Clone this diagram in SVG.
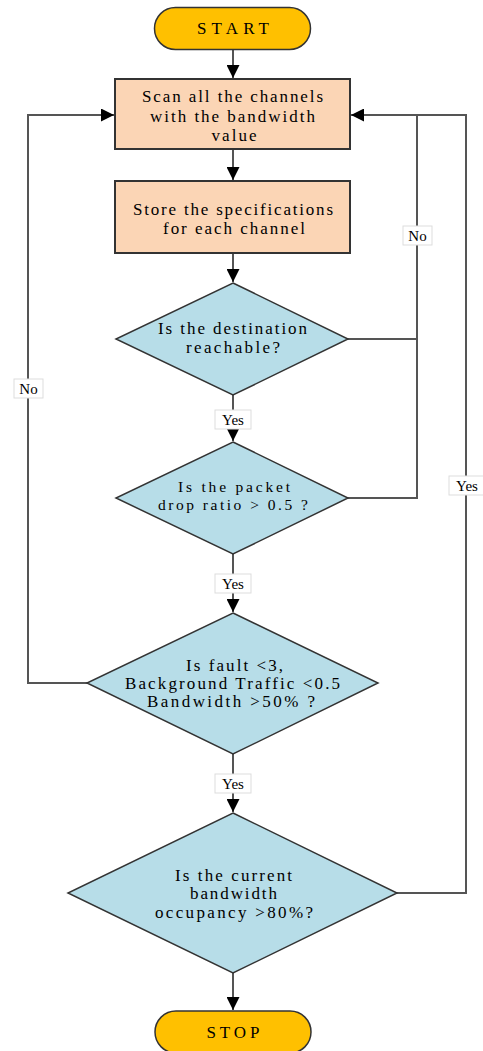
<svg xmlns="http://www.w3.org/2000/svg" width="483" height="1051" viewBox="0 0 483 1051">
<style>
.t{font-family:"Liberation Serif","Times New Roman",serif;font-size:17px;fill:#000;text-anchor:middle;}
.s{font-size:15.5px;}
.term{fill:#FFC000;stroke:#333;stroke-width:1.5;}
.proc{fill:#FBD5B5;stroke:#333;stroke-width:2;}
.dec{fill:#B7DDE8;stroke:#333;stroke-width:1.5;}
.c{fill:none;stroke:#555;stroke-width:2;}
.lb{fill:#fff;stroke:#ddd;stroke-width:1;}
.lt{font-family:"Liberation Serif","Times New Roman",serif;font-size:15px;fill:#000;text-anchor:middle;}
</style>
<defs>
<marker id="ah" viewBox="0 0 10 10" refX="10" refY="5" markerWidth="6.5" markerHeight="6.5" markerUnits="strokeWidth" orient="auto">
<path d="M0,0 L10,5 L0,10 z" fill="#000"/>
</marker>
</defs>
<rect width="483" height="1051" fill="#fff"/>
<g id="connectors">
<line class="c" x1="233" y1="50" x2="233" y2="78" marker-end="url(#ah)"/>
<line class="c" x1="233" y1="149" x2="233" y2="180" marker-end="url(#ah)"/>
<line class="c" x1="233" y1="253" x2="233" y2="282" marker-end="url(#ah)"/>
<line class="c" x1="233" y1="395" x2="233" y2="441" marker-end="url(#ah)"/>
<line class="c" x1="233" y1="554" x2="233" y2="612" marker-end="url(#ah)"/>
<line class="c" x1="233" y1="754" x2="233" y2="812" marker-end="url(#ah)"/>
<line class="c" x1="233" y1="973" x2="233" y2="1010" marker-end="url(#ah)"/>
<polyline class="c" points="87,683 28,683 28,115 114,115" marker-end="url(#ah)"/>
<polyline class="c" points="348,339 417,339"/>
<polyline class="c" points="348,498 417,498 417,115 351,115" marker-end="url(#ah)"/>
<polyline class="c" points="397,893 466,893 466,115 417,115"/>
<rect class="lb" x="403" y="226" width="29" height="19"/>
<text class="lt" x="417.5" y="240.5">No</text>
<rect class="lb" x="14" y="379" width="29" height="19"/>
<text class="lt" x="28.5" y="393.5">No</text>
<rect class="lb" x="215" y="410" width="36" height="19"/>
<text class="lt" x="233" y="424.5">Yes</text>
<rect class="lb" x="215" y="574" width="36" height="19"/>
<text class="lt" x="233" y="588.5">Yes</text>
<rect class="lb" x="215" y="774" width="36" height="19"/>
<text class="lt" x="233" y="788.5">Yes</text>
<rect class="lb" x="449" y="476" width="36" height="19"/>
<text class="lt" x="467" y="490.5">Yes</text>
</g>
<g id="start">
<rect class="term" x="154.5" y="7.5" width="156" height="42" rx="21" ry="21"/>
<text class="t" x="233" y="34" textLength="72" lengthAdjust="spacing">START</text>
</g>
<g id="scan">
<rect class="proc" x="115" y="79" width="235" height="70"/>
<text class="t" x="232.5" y="102" textLength="181" lengthAdjust="spacing">Scan all the channels</text>
<text class="t" x="232.5" y="121.5" textLength="165" lengthAdjust="spacing">with the bandwidth</text>
<text class="t" x="234" y="141" textLength="45" lengthAdjust="spacing">value</text>
</g>
<g id="store">
<rect class="proc" x="115" y="181" width="235" height="72"/>
<text class="t" x="233" y="215" textLength="200" lengthAdjust="spacing">Store the specifications</text>
<text class="t" x="234" y="234" textLength="142" lengthAdjust="spacing">for each channel</text>
</g>
<g id="d1">
<polygon class="dec" points="233,283 348,339 233,395 116,339"/>
<text class="t" x="232.5" y="334" textLength="149" lengthAdjust="spacing">Is the destination</text>
<text class="t" x="233" y="353" textLength="94" lengthAdjust="spacing">reachable?</text>
</g>
<g id="d2">
<polygon class="dec" points="233,442 348,498 233,554 116,498"/>
<text class="t s" x="234" y="492" textLength="112" lengthAdjust="spacing">Is the packet</text>
<text class="t s" x="233" y="510" textLength="150" lengthAdjust="spacing">drop ratio &gt; 0.5 ?</text>
</g>
<g id="d3">
<polygon class="dec" points="233,613 378,683 233,754 87,683"/>
<text class="t" x="234.5" y="671" textLength="97" lengthAdjust="spacing">Is fault &lt;3,</text>
<text class="t" x="232.5" y="689" textLength="215" lengthAdjust="spacing">Background Traffic &lt;0.5</text>
<text class="t" x="231" y="707" textLength="168" lengthAdjust="spacing">Bandwidth &gt;50% ?</text>
</g>
<g id="d4">
<polygon class="dec" points="233,813 397,893 233,973 68,893"/>
<text class="t" x="233.5" y="881" textLength="117" lengthAdjust="spacing">Is the current</text>
<text class="t" x="233.5" y="899" textLength="87" lengthAdjust="spacing">bandwidth</text>
<text class="t" x="234" y="918" textLength="158" lengthAdjust="spacing">occupancy &gt;80%?</text>
</g>
<g id="stop">
<rect class="term" x="155" y="1011" width="156" height="42" rx="21" ry="21"/>
<text class="t" x="233" y="1038" textLength="53" lengthAdjust="spacing">STOP</text>
</g>
</svg>
